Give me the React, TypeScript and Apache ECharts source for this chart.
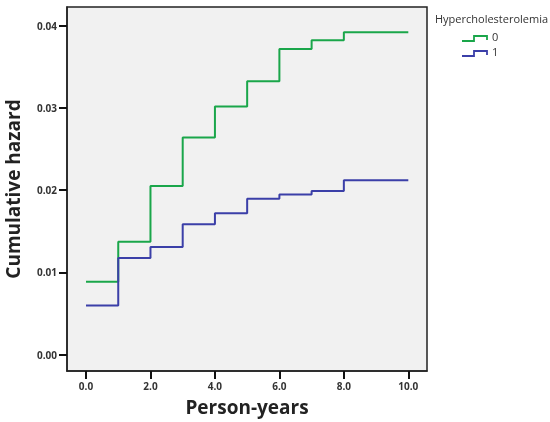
import React, { useEffect, useRef } from "react";
import * as echarts from "echarts";

const years = [0, 1, 2, 3, 4, 5, 6, 7, 8, 10];
const hazard0 = [0.00887, 0.01374, 0.0205, 0.02643, 0.0302, 0.03326, 0.0372, 0.03826, 0.03923, 0.03923];
const hazard1 = [0.00598, 0.01176, 0.0131, 0.01585, 0.0172, 0.01895, 0.01948, 0.0199, 0.0212, 0.0212];
const xTicks = [0, 2, 4, 6, 8, 10];
const yTicks = [0, 0.01, 0.02, 0.03, 0.04];
const groupNames = ["0", "1"];
const colors = ["#1aa64a", "#3b3fa8"];

export default function App() {
  const ref = useRef<HTMLDivElement>(null);
  useEffect(() => {
    if (!ref.current) return;
    const chart = echarts.init(ref.current, null, { renderer: "svg" });
    const font = "'Open Sans', 'DejaVu Sans', sans-serif";
    const legendX = 462;
    const legendY = [38, 53];
    const axisLine = { show: true, onZero: false, lineStyle: { color: "#222", width: 1.5 } };
    const tickStyle = { color: "#111", width: 2 };
    chart.setOption({
      animation: false,
      grid: {
        left: 67,
        top: 7,
        right: 123,
        bottom: 51,
        containLabel: false,
        outerBoundsMode: "none",
        show: true,
        backgroundColor: "#f1f1f1",
        borderColor: "#222",
        borderWidth: 1.5,
      },
      xAxis: {
        type: "value",
        min: -0.59,
        max: 10.58,
        name: "Person-years",
        nameLocation: "middle",
        nameGap: 26,
        nameTextStyle: { fontFamily: font, fontWeight: "bold", fontSize: 19, color: "#222" },
        splitLine: { show: false },
        axisLine,
        axisTick: { show: true, length: 8, customValues: xTicks, lineStyle: tickStyle },
        axisLabel: {
          customValues: xTicks,
          formatter: (v: number) => v.toFixed(1),
          fontFamily: font,
          fontWeight: "bold",
          fontSize: 10,
          color: "#333",
          margin: 10,
        },
      },
      yAxis: {
        type: "value",
        min: -0.002,
        max: 0.0423,
        name: "Cumulative hazard",
        nameLocation: "middle",
        nameGap: 45,
        nameTextStyle: { fontFamily: font, fontWeight: "bold", fontSize: 19, color: "#222" },
        splitLine: { show: false },
        axisLine,
        axisTick: { show: true, length: 8, customValues: yTicks, lineStyle: tickStyle },
        axisLabel: {
          customValues: yTicks,
          formatter: (v: number) => v.toFixed(2),
          fontFamily: font,
          fontWeight: "bold",
          fontSize: 10,
          color: "#333",
          margin: 10,
        },
      },
      legend: { show: false },
      series: [hazard0, hazard1].map((vals, i) => ({
        name: groupNames[i],
        type: "line",
        step: "end",
        symbol: "none",
        lineStyle: { color: colors[i], width: 2 },
        data: years.map((x, k) => [x, vals[k]]),
      })),
      graphic: [
        {
          type: "text",
          left: 435,
          top: 13,
          style: { text: "Hypercholesterolemia", fontFamily: font, fontSize: 11, fill: "#333" },
        },
        ...groupNames.flatMap((g, i) => [
          {
            type: "polyline",
            shape: {
              points: [
                [legendX, legendY[i] + 3],
                [legendX + 12, legendY[i] + 3],
                [legendX + 12, legendY[i] - 2],
                [legendX + 25, legendY[i] - 2],
                [legendX + 25, legendY[i] + 2],
              ],
            },
            style: { stroke: colors[i], lineWidth: 1.8, fill: null },
          },
          {
            type: "text",
            left: legendX + 30,
            top: legendY[i] - 7,
            style: { text: g, fontFamily: font, fontSize: 11, fill: "#333" },
          },
        ]),
      ],
    });
    return () => chart.dispose();
  }, []);
  return <div ref={ref} style={{ position: "fixed", left: 0, top: 0, width: 550, height: 422 }} />;
}
